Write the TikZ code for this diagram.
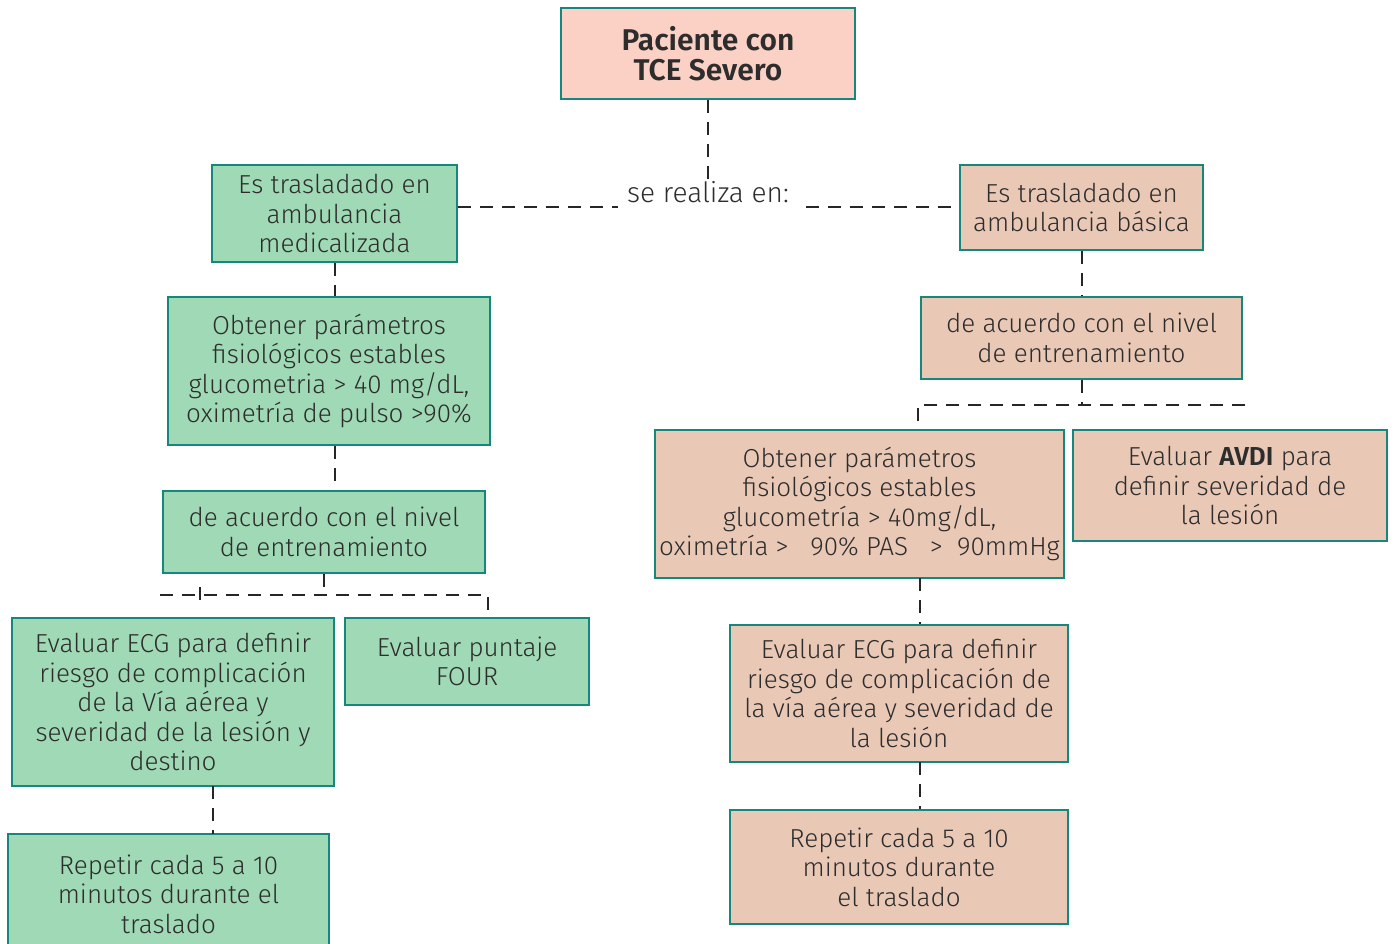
\documentclass[tikz,border=0pt]{standalone}
\usepackage{fontspec}
\setmainfont{Fira Sans}[UprightFont={* Light}, BoldFont={* SemiBold}]
\definecolor{bord}{RGB}{22,135,125}
\definecolor{gfill}{RGB}{160,217,181}
\definecolor{pfill}{RGB}{233,200,182}
\definecolor{tfill}{RGB}{251,209,197}
\definecolor{txt}{RGB}{45,45,45}
\begin{document}
\begin{tikzpicture}[x=1pt,y=-1pt,
  box/.style={draw=bord,line width=2pt,inner sep=0pt,align=center,text=txt,
    font=\fontsize{26}{29.5}\selectfont},
  gbox/.style={box,fill=gfill},
  pbox/.style={box,fill=pfill},
  conn/.style={draw=black!85,line width=2pt,dash pattern=on 13pt off 9pt}]
\useasboundingbox (0,0) rectangle (1394,943);
% top
\node[box,fill=tfill,minimum width=294pt,minimum height=91pt,
  font=\fontsize{30}{29.5}\selectfont\bfseries] (top) at (708,53.5) {Paciente con\\TCE Severo};
\node[text=txt,font=\fontsize{28}{29.5}\selectfont,inner sep=0pt] (se) at (708,192) {se realiza en:};
% left column
\node[gbox,minimum width=245pt,minimum height=97pt] (l1) at (334.5,213.5) {Es trasladado en\\ambulancia\\medicalizada};
\node[gbox,minimum width=322pt,minimum height=148pt] (l2) at (329,371) {Obtener parámetros\\fisiológicos estables\\glucometria > 40 mg/dL,\\oximetría de pulso >90\%};
\node[gbox,minimum width=322pt,minimum height=82pt] (l3) at (324,532) {de acuerdo con el nivel\\de entrenamiento};
\node[gbox,minimum width=322pt,minimum height=168pt] (l4) at (173,702) {Evaluar ECG para definir\\riesgo de complicación\\de la Vía aérea y\\severidad de la lesión y\\destino};
\node[gbox,minimum width=244pt,minimum height=87pt] (l5) at (467,661.5) {Evaluar puntaje\\FOUR};
\node[gbox,minimum width=321pt,minimum height=120pt] (l6) at (168.5,894) {Repetir cada 5 a 10\\minutos durante el\\traslado};
% right column
\node[pbox,minimum width=243pt,minimum height=85pt] (r1) at (1081.5,207.5) {Es trasladado en\\ambulancia básica};
\node[pbox,minimum width=321pt,minimum height=82pt] (r2) at (1081.5,338) {de acuerdo con el nivel\\de entrenamiento};
\node[pbox,minimum width=409pt,minimum height=148pt] (r3) at (859.5,504) {Obtener parámetros\\fisiológicos estables\\glucometría > 40mg/dL,\\oximetría >~~~90\% PAS~~~>~~90mmHg};
\node[pbox,minimum width=314pt,minimum height=111pt] (r4) at (1230,485.5) {Evaluar \textbf{AVDI} para\\definir severidad de\\la lesión};
\node[pbox,minimum width=338pt,minimum height=137pt] (r5) at (899,693.5) {Evaluar ECG para definir\\riesgo de complicación de\\la vía aérea y severidad de\\la lesión};
\node[pbox,minimum width=338pt,minimum height=114pt] (r6) at (899,867) {Repetir cada 5 a 10\\minutos durante\\el traslado};
% connectors
\coordinate (sl) at (618,207);
\coordinate (sr) at (806,207);
\draw[conn] (top.south) -- (se.north);
\draw[conn] (l1.east |- sl) -- (sl);
\draw[conn] (sr) -- (r1.west |- sr);
\draw[conn] (l1.south) -- (l1.south |- l2.north);
\draw[conn] (l1.south |- l2.south) -- (l1.south |- l3.north);
% left split
\coordinate (ls0) at (160,595);
\coordinate (ls1) at (488,595);
\coordinate (lt) at (200,587);
\coordinate (ltb) at (200,608);
\draw[conn] (l3.south) -- (l3.south |- ls0);
\draw[conn] (ls0) -- (ls1) -- (ls1 |- l5.north);
\draw[conn] (lt) -- (ltb);
\coordinate (l4b) at (213,786);
\coordinate (l6t) at (213,834);
\draw[conn] (l4b) -- (l6t);
% right
\draw[conn] (r1.south) -- (r1.south |- r2.north);
\coordinate (rs0) at (918,405);
\coordinate (rs1) at (1245,405);
\draw[conn] (r2.south) -- (r2.south |- rs0);
\draw[conn] (rs1) -- (rs0) -- (rs0 |- r3.north);
\coordinate (r3b) at (920,578);
\draw[conn] (r3b) -- (r3b |- r5.north);
\coordinate (r5b) at (920,762);
\draw[conn] (r5b) -- (r5b |- r6.north);
\end{tikzpicture}
\end{document}
